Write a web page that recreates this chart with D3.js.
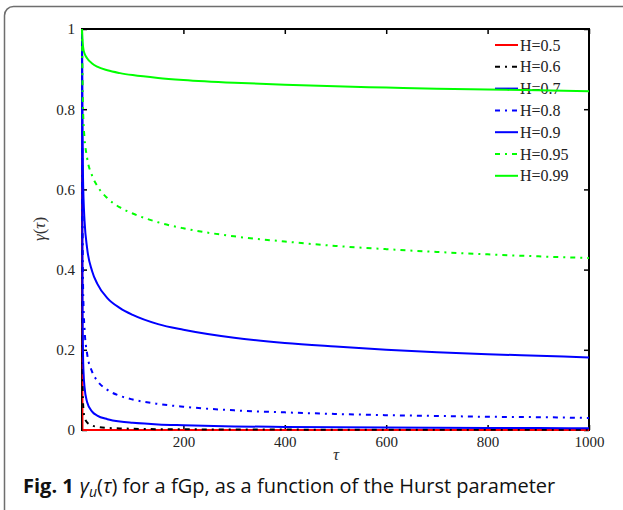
<!DOCTYPE html>
<html>
<head>
<meta charset="utf-8">
<script src="https://cdn.jsdelivr.net/npm/d3@7"></script>
<style>
	body { margin: 0; background: #fff; }
	svg { display: block; }
</style>
</head>
<body>
<svg id="svg_main" width="623" height="510"></svg>
<script>
var tau = [0, 1, 2, 3, 5, 10, 20, 30, 50, 75, 100, 150, 200, 300, 400, 500, 600, 700, 800, 900, 1000];

// gamma(tau), one array per Hurst value
var h050 = [1, 0, 0, 0, 0, 0, 0, 0, 0, 0, 0, 0, 0, 0, 0, 0, 0, 0, 0, 0, 0];
var h060 = [1, 0.149, 0.071, 0.050, 0.033, 0.019, 0.011, 0.008, 0.005, 0.004, 0.003, 0.002, 0.0017, 0.0013, 0.001, 0.0008, 0.0007, 0.0006, 0.0006, 0.0005, 0.0005];
var h070 = [1, 0.320, 0.189, 0.145, 0.107, 0.070, 0.046, 0.036, 0.027, 0.021, 0.018, 0.014, 0.012, 0.009, 0.0077, 0.0067, 0.0060, 0.0055, 0.0051, 0.0047, 0.0044];
var h080 = [1, 0.516, 0.369, 0.309, 0.252, 0.191, 0.145, 0.123, 0.100, 0.085, 0.076, 0.065, 0.058, 0.049, 0.044, 0.040, 0.037, 0.035, 0.033, 0.032, 0.030];
var h090 = [1, 0.741, 0.630, 0.578, 0.522, 0.454, 0.396, 0.365, 0.329, 0.304, 0.287, 0.264, 0.250, 0.230, 0.217, 0.208, 0.200, 0.194, 0.189, 0.185, 0.181];
var h095 = [1, 0.866, 0.800, 0.766, 0.728, 0.679, 0.634, 0.609, 0.578, 0.555, 0.540, 0.518, 0.503, 0.483, 0.470, 0.459, 0.451, 0.444, 0.438, 0.433, 0.429];
var h099 = [1, 0.973, 0.957, 0.948, 0.939, 0.927, 0.914, 0.906, 0.897, 0.890, 0.885, 0.878, 0.873, 0.866, 0.861, 0.857, 0.854, 0.851, 0.849, 0.847, 0.845];

var names = ["H=0.5", "H=0.6", "H=0.7", "H=0.8", "H=0.9", "H=0.95", "H=0.99"];
var xTicks = [200, 400, 600, 800, 1000];
var yTicks = [0, 0.2, 0.4, 0.6, 0.8, 1];

var series = [h050, h060, h070, h080, h090, h095, h099];
var colors = ["#ff0000", "#000000", "#0000ff", "#0000ff", "#0000ff", "#00ff00", "#00ff00"];
var dashes = [null, "5,5,2,5", null, "5,5,2,5", null, "5,5,2,5", null];

var svg = d3.select("#svg_main");
var serif = "'Liberation Serif', 'DejaVu Serif', serif";

// figure frame, open on the right and bottom
svg.append("rect")
	.attr("x", 4.5)
	.attr("y", 6.5)
	.attr("width", 700)
	.attr("height", 600)
	.attr("rx", 9)
	.attr("fill", "none")
	.attr("stroke", "#6e6e6e")
	.attr("stroke-width", 1.5);

var x = d3.scaleLinear().domain([0, 1000]).range([82, 589]),
	y = d3.scaleLinear().domain([0, 1]).range([430, 29]);

var xAxis = d3.axisBottom(x).tickValues(xTicks).tickSize(-5).tickPadding(6).tickFormat(d => d),
	yAxis = d3.axisLeft(y).tickValues(yTicks).tickSize(-5).tickPadding(7).tickFormat(d => d),
	topAxis = d3.axisTop(x).tickValues(xTicks).tickSize(-5).tickFormat(""),
	rightAxis = d3.axisRight(y).tickValues(yTicks).tickSize(-5).tickFormat("");

function styleAxis(g) {
	g.select(".domain").remove();
	g.selectAll(".tick line").attr("stroke", "#000").attr("stroke-width", 1.5);
	g.selectAll(".tick text")
		.attr("font-family", serif)
		.attr("font-size", "15px")
		.attr("fill", "#222");
}

svg.append("g").attr("transform", "translate(0, 430)").call(xAxis).call(styleAxis);
svg.append("g").attr("transform", "translate(82, 0)").call(yAxis).call(styleAxis);
svg.append("g").attr("transform", "translate(0, 29)").call(topAxis).call(styleAxis);
svg.append("g").attr("transform", "translate(589, 0)").call(rightAxis).call(styleAxis);

svg.append("rect")
	.attr("x", 82)
	.attr("y", 29)
	.attr("width", 589 - 82)
	.attr("height", 430 - 29)
	.attr("fill", "none")
	.attr("stroke", "#000")
	.attr("stroke-width", 2);

// legend (curves are drawn over it, as in the figure)
var legend = svg.append("g").attr("class", "legend");
names.forEach((n, i) => {
	let ly = 45 + i * 21.8;
	legend.append("line")
		.attr("x1", 495)
		.attr("x2", 518)
		.attr("y1", ly)
		.attr("y2", ly)
		.attr("stroke", colors[i])
		.attr("stroke-width", 2)
		.attr("stroke-dasharray", dashes[i]);
	legend.append("text")
		.attr("x", 520)
		.attr("y", ly)
		.attr("dy", "0.35em")
		.attr("font-family", serif)
		.attr("font-size", "16px")
		.attr("fill", "#222")
		.text(n);
});

var line = d3.line()
	.x((d, i) => x(tau[i]))
	.y(d => y(d))
	.curve(d3.curveMonotoneX);

svg.append("g")
	.attr("class", "curves")
	.selectAll("path")
	.data(series)
	.enter().append("path")
	.attr("d", d => line(d))
	.attr("fill", "none")
	.attr("stroke", (d, i) => colors[i])
	.attr("stroke-width", 2)
	.attr("stroke-dasharray", (d, i) => dashes[i]);

// axis labels
svg.append("text")
	.attr("transform", "translate(45, 229) rotate(-90)")
	.attr("text-anchor", "middle")
	.attr("font-family", serif)
	.attr("font-size", "17px")
	.attr("fill", "#333")
	.html("<tspan font-style='italic'>γ</tspan>(<tspan font-style='italic'>τ</tspan>)");

svg.append("text")
	.attr("x", 336)
	.attr("y", 460)
	.attr("text-anchor", "middle")
	.attr("font-family", serif)
	.attr("font-style", "italic")
	.attr("font-size", "17px")
	.attr("fill", "#333")
	.text("τ");

// caption
var cap = svg.append("text")
	.attr("x", 23)
	.attr("y", 493)
	.attr("font-family", "'Open Sans', 'Noto Sans', sans-serif")
	.attr("font-size", "20px")
	.attr("fill", "#111");
cap.append("tspan").attr("font-weight", "bold").text("Fig. 1");
cap.append("tspan").attr("dx", 6).attr("font-style", "italic").text("γ");
cap.append("tspan").attr("font-style", "italic").attr("font-size", "14px").attr("dy", 4).text("u");
cap.append("tspan").attr("dy", -4).text("(");
cap.append("tspan").attr("font-style", "italic").text("τ");
cap.append("tspan").text(") for a fGp, as a function of the Hurst parameter");
</script>
</body>
</html>
